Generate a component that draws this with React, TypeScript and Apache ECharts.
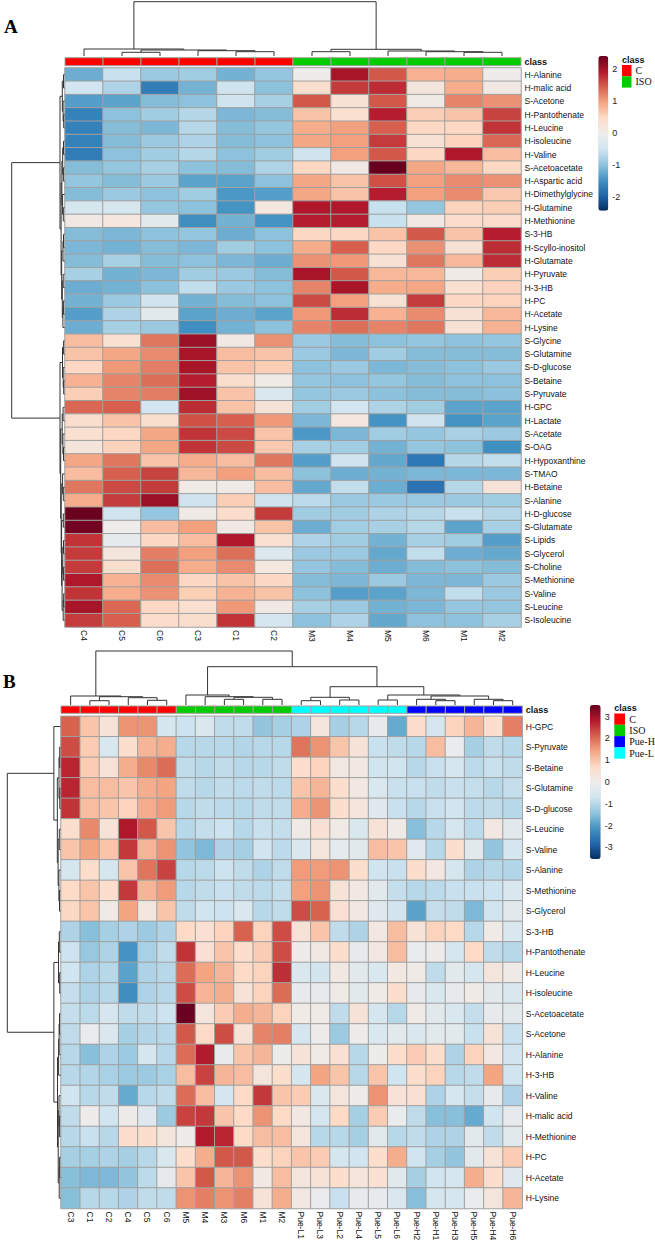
import React, { useEffect, useRef } from 'react';
import * as echarts from 'echarts';

// ---------------- Panel A data ----------------
const colsA = ['C4', 'C5', 'C6', 'C3', 'C1', 'C2', 'M3', 'M4', 'M5', 'M6', 'M1', 'M2'];
const classA = ['C', 'C', 'C', 'C', 'C', 'C', 'ISO', 'ISO', 'ISO', 'ISO', 'ISO', 'ISO'];
const rowsA = ['H-Alanine', 'H-malic acid', 'S-Acetone', 'H-Pantothenate', 'H-Leucine', 'H-isoleucine', 'H-Valine',
  'S-Acetoacetate', 'H-Aspartic acid', 'H-Dimethylglycine', 'H-Glutamine', 'H-Methionine', 'S-3-HB', 'H-Scyllo-inositol',
  'H-Glutamate', 'H-Pyruvate', 'H-3-HB', 'H-PC', 'H-Acetate', 'H-Lysine', 'S-Glycine', 'S-Glutamine', 'S-D-glucose',
  'S-Betaine', 'S-Pyruvate', 'H-GPC', 'H-Lactate', 'S-Acetate', 'S-OAG', 'H-Hypoxanthine', 'S-TMAO', 'H-Betaine',
  'S-Alanine', 'H-D-glucose', 'S-Glutamate', 'S-Lipids', 'S-Glycerol', 'S-Choline', 'S-Methionine', 'S-Valine',
  'S-Leucine', 'S-Isoleucine'];
const valuesA = [
  [-1.2, -0.55, -0.9, -0.85, -1.15, -0.95, 0.0, 2.0, 1.5, 0.85, 0.9, 0.0],
  [-0.45, -0.75, -1.7, -1.15, -0.5, -1.0, 0.4, 1.7, 1.8, 0.2, 0.9, 0.1],
  [-1.35, -1.3, -1.05, -1.0, -0.5, -0.8, 1.5, 0.3, 1.5, 0.05, 1.2, 1.1],
  [-1.65, -1.0, -0.85, -0.7, -1.1, -1.05, 0.7, 0.35, 1.9, 0.6, 0.7, 1.65],
  [-1.65, -1.05, -1.1, -0.7, -1.05, -0.95, 0.9, 1.0, 1.45, 0.5, 0.5, 1.75],
  [-1.65, -1.05, -0.9, -0.75, -1.05, -1.0, 0.95, 1.0, 1.7, 0.3, 0.55, 1.4],
  [-1.7, -1.0, -0.85, -0.7, -1.0, -0.85, -0.5, 1.0, 1.5, 0.5, 1.95, 0.75],
  [-1.05, -0.95, -0.8, -1.0, -1.05, -0.75, 0.5, 0.1, 2.42, 0.95, 0.8, 0.5],
  [-0.95, -1.05, -0.9, -1.3, -1.3, -1.0, 0.95, 0.7, 1.55, 1.0, 1.15, 1.1],
  [-1.05, -0.9, -1.0, -0.85, -1.4, -1.35, 0.95, 0.7, 1.9, 1.0, 1.15, 0.65],
  [-0.4, -0.4, -0.95, -1.0, -1.45, 0.15, 1.95, 1.95, -0.55, -0.95, 0.55, 0.6],
  [0.1, 0.15, -0.2, -1.5, -1.15, -1.45, 1.9, 1.9, -0.55, 0.1, 0.45, 0.45],
  [-1.05, -1.1, -1.0, -0.95, -1.2, -1.0, 0.5, 0.5, 0.7, 1.5, 0.7, 1.9],
  [-1.1, -1.15, -1.05, -1.1, -0.85, -1.0, 0.9, 1.45, 0.5, 1.1, 0.3, 1.8],
  [-1.05, -0.8, -1.05, -1.0, -1.1, -1.2, 1.1, 1.05, 0.3, 1.3, 0.8, 1.8],
  [-0.8, -1.15, -1.1, -0.85, -0.9, -1.05, 2.0, 1.5, 0.8, 0.8, 0.05, 0.6],
  [-1.2, -1.15, -1.0, -0.6, -0.9, -1.0, 1.2, 2.0, 0.9, 0.95, 0.35, 0.55],
  [-1.15, -0.9, -0.5, -1.15, -1.05, -1.0, 1.6, 1.0, 0.3, 1.7, 0.5, 0.55],
  [-1.35, -0.75, -0.2, -1.3, -1.2, -1.3, 1.05, 1.8, 0.85, 1.15, 0.3, 0.8],
  [-1.2, -0.8, -0.9, -1.5, -1.15, -1.0, 1.2, 1.35, 1.2, 1.3, 0.3, 0.85],
  [0.75, 0.35, 1.3, 2.1, 0.1, 1.1, -0.9, -1.05, -1.0, -0.95, -1.0, -0.95],
  [0.7, 0.95, 1.15, 2.0, 0.75, 0.7, -0.9, -1.1, -0.85, -1.05, -1.05, -1.05],
  [0.5, 1.05, 1.25, 2.0, 0.7, 0.6, -1.0, -0.9, -1.1, -1.05, -1.0, -0.9],
  [0.85, 1.2, 1.35, 1.9, 0.4, 0.05, -0.95, -1.0, -0.95, -1.05, -1.0, -1.0],
  [0.6, 1.2, 1.25, 2.05, 0.7, -0.35, -0.95, -0.9, -1.0, -1.05, -1.05, -1.0],
  [1.4, 1.45, -0.45, 1.8, 0.7, 0.25, -0.85, -0.45, -0.75, -0.85, -1.3, -1.3],
  [0.4, 0.7, 0.4, 1.55, 1.45, 1.05, -1.1, 0.15, -1.45, -0.5, -1.45, -1.3],
  [0.35, 0.5, 0.95, 1.75, 1.6, 0.7, -1.4, -1.1, -0.85, -0.95, -0.8, -0.9],
  [0.2, 0.55, 0.95, 1.75, 1.6, 0.65, -0.8, -0.85, -1.15, -0.95, -1.0, -1.5],
  [0.95, 1.3, 0.7, 0.9, 0.75, 1.3, -1.35, -0.5, -1.25, -1.75, -0.7, -0.6],
  [0.75, 1.45, 1.65, 0.8, 1.0, 0.75, -1.0, -1.2, -1.15, -1.1, -1.1, -1.1],
  [1.3, 1.6, 1.7, 0.05, 0.05, 0.75, -1.25, -0.6, -1.2, -1.8, -0.7, 0.25],
  [0.9, 1.7, 2.1, -0.5, 0.6, -0.5, -0.65, -0.9, -0.9, -0.9, -0.9, -0.85],
  [2.4, -0.5, -0.95, 0.05, 0.45, 1.7, -0.85, -0.85, -0.75, -0.7, -0.55, -0.7],
  [2.35, 0.0, 0.75, 1.0, 0.1, 0.7, -1.2, -0.85, -0.8, -0.7, -1.3, -0.8],
  [1.75, -0.15, 0.5, 0.75, 1.95, 0.35, -0.75, -0.85, -1.15, -0.8, -0.85, -1.35],
  [1.7, 0.2, 1.25, 1.0, 1.35, -0.3, -0.9, -0.9, -1.25, -0.6, -1.2, -1.25],
  [1.7, 0.4, 1.35, 0.9, 1.15, 0.15, -0.95, -1.05, -1.2, -1.05, -1.0, -1.05],
  [1.95, 0.85, 1.15, 0.5, 0.7, 0.5, -1.05, -1.1, -0.9, -1.1, -1.1, -0.9],
  [1.75, 0.9, 1.1, 0.6, 0.85, 0.7, -1.0, -1.35, -1.3, -1.1, -0.6, -0.9],
  [2.0, 1.4, 0.5, 0.35, 1.05, 0.1, -0.8, -0.9, -1.15, -1.1, -0.95, -0.95],
  [1.7, 1.45, 0.45, 0.4, 1.75, -0.4, -1.0, -0.75, -1.25, -1.0, -1.0, -0.8],
];
// hclust-style merges: negative = leaf (1-based display order), positive = earlier merge; [a, b, height]
const colMergeA = [
  [-2, -3, 3.7], [-5, -6, 4.3], [-4, 2, 5.3], [1, 3, 6.0], [-1, 4, 7.0],
  [-7, -8, 4.3], [-11, -12, 3.7], [-10, 7, 4.3], [-9, 8, 5.0], [6, 9, 6.7], [5, 10, 54.3],
];
const rowMergeA = [
  [-1, -2, 1.0], [-4, -5, 0.8], [-3, 2, 1.4], [1, 3, 2.2], [-6, -7, 1.0], [-8, -9, 1.1], [5, 6, 1.8],
  [-11, -12, 1.2], [-10, 8, 1.9], [7, 9, 2.6], [-13, -14, 1.0], [-15, 11, 1.5], [-16, -17, 1.3],
  [-18, -19, 1.1], [14, -20, 1.6], [13, 15, 2.2], [12, 16, 2.8], [10, 17, 3.4], [4, 18, 4.5],
  [-21, -22, 0.9], [-24, -25, 0.8], [-23, 21, 1.3], [20, 22, 2.0], [-26, -27, 1.4], [-29, -30, 1.0],
  [-28, 25, 1.6], [24, 26, 2.3], [-32, -33, 1.2], [-31, 28, 1.9], [-34, -35, 1.2], [-36, -37, 1.0],
  [-38, -39, 0.9], [31, 32, 1.7], [-40, -41, 0.8], [34, -42, 1.3], [33, 35, 2.4], [30, 36, 2.9],
  [29, 37, 3.3], [27, 38, 3.8], [23, 39, 4.5], [19, 40, 52.8],
];

// ---------------- Panel B data ----------------
const colsB = ['C3', 'C1', 'C2', 'C4', 'C5', 'C6', 'M5', 'M4', 'M3', 'M6', 'M1', 'M2', 'Pue-L1', 'Pue-L3', 'Pue-L2',
  'Pue-L4', 'Pue-L5', 'Pue-L6', 'Pue-H2', 'Pue-H1', 'Pue-H3', 'Pue-H5', 'Pue-H4', 'Pue-H6'];
const classB = ['C', 'C', 'C', 'C', 'C', 'C', 'ISO', 'ISO', 'ISO', 'ISO', 'ISO', 'ISO', 'Pue-L', 'Pue-L', 'Pue-L',
  'Pue-L', 'Pue-L', 'Pue-L', 'Pue-H', 'Pue-H', 'Pue-H', 'Pue-H', 'Pue-H', 'Pue-H'];
const rowsB = ['H-GPC', 'S-Pyruvate', 'S-Betaine', 'S-Glutamine', 'S-D-glucose', 'S-Leucine', 'S-Valine', 'S-Alanine',
  'S-Methionine', 'S-Glycerol', 'S-3-HB', 'H-Pantothenate', 'H-Leucine', 'H-isoleucine', 'S-Acetoacetate', 'S-Acetone',
  'H-Alanine', 'H-3-HB', 'H-Valine', 'H-malic acid', 'H-Methionine', 'H-PC', 'H-Acetate', 'H-Lysine'];
const valuesB = [
  [2.1, 1.0, 0.4, 1.6, 1.6, -0.6, -0.75, -0.5, -0.9, -0.9, -1.4, -1.2, -1.1, 0.3, -1.2, -1.0, -0.2, -1.8, 0.6, -0.6, 0.8, 1.2, 0.6, 1.8],
  [2.3, 0.9, -0.5, 0.6, 1.2, 1.3, -1.0, -1.0, -1.0, -1.05, -1.0, -1.0, 1.9, 1.6, 1.0, 0.4, -0.8, -0.9, -1.0, 1.1, -0.1, -1.2, -0.9, -1.0],
  [2.7, 0.9, 0.4, 1.3, 1.7, 2.0, -0.9, -1.0, -0.9, -1.0, -1.0, -0.9, 0.6, 0.8, 0.15, 0.2, -0.7, -0.7, -1.0, -0.8, -0.6, -0.95, -0.8, -0.9],
  [2.7, 1.1, 1.1, 1.0, 1.3, 1.4, -0.9, -1.0, -0.9, -0.95, -0.9, -0.95, 1.0, 1.2, 0.6, 0.2, -0.5, -0.8, -0.8, -0.9, -0.8, -0.85, -1.0, -0.85],
  [2.55, 1.1, 1.0, 0.8, 1.3, 1.5, -1.0, -0.9, -0.95, -1.0, -0.9, -0.9, 1.3, 1.6, 0.6, 0.35, -0.4, -0.8, -1.0, -0.8, -0.7, -0.95, -0.9, -1.0],
  [0.6, 1.7, 0.4, 2.85, 2.2, 1.0, -1.0, -0.85, -0.75, -1.0, -0.8, -0.85, 0.1, 0.45, 0.1, -0.5, 0.4, 0.1, -1.5, -1.0, -0.6, -0.95, 0.2, -0.3],
  [1.0, 1.4, 1.0, 2.5, 1.2, 1.6, -1.4, -1.6, -1.1, -1.2, -0.7, -0.95, -0.5, 0.3, -0.25, -0.3, 1.1, 1.0, -0.35, -1.0, 0.6, -0.3, -1.4, -0.6],
  [-0.6, 0.6, -0.6, 1.0, 1.9, 2.4, -1.0, -0.95, -0.75, -0.9, -1.1, -0.9, 1.5, 1.5, 1.6, 0.6, -0.7, -0.8, 0.6, 0.2, -0.6, -1.1, -1.0, -1.05],
  [0.7, 1.0, 0.6, 2.5, 1.2, 1.5, -1.0, -0.9, -0.8, -0.9, -0.95, -0.85, 1.45, 1.6, 0.4, 0.2, -0.3, -0.85, -1.0, -0.95, -0.8, -0.8, -0.75, -0.5],
  [0.75, 1.0, 0.1, 1.4, 0.25, 1.0, -0.9, -0.7, -0.75, -0.5, -1.0, -0.9, 2.3, 2.1, 0.5, 0.2, -0.4, -0.65, -1.9, -0.85, -0.9, -1.6, -0.7, -0.3],
  [-1.1, -1.5, -1.2, -1.1, -1.3, -1.1, 0.7, 0.5, 0.8, 2.1, 0.8, 2.3, 0.4, 1.0, -0.9, -1.1, 0.2, 1.1, 0.4, 0.8, 0.7, -1.0, 0.1, -0.5],
  [-0.75, -1.35, -1.1, -2.1, -1.15, -0.9, 2.55, 0.5, 1.0, 0.6, 0.9, 2.3, 0.05, 0.15, 0.6, -0.2, 0.2, 1.1, -0.1, 0.0, -0.6, 0.7, -0.9, -1.0],
  [-0.7, -1.1, -1.0, -1.9, -1.1, -1.0, 2.0, 1.4, 1.2, 0.7, 0.8, 2.6, -0.5, -0.65, 0.15, -0.3, -0.5, 0.2, 0.1, -0.9, -0.3, -0.6, 0.3, 0.1],
  [-0.85, -1.1, -1.0, -2.2, -1.1, -1.0, 2.3, 1.2, 1.3, 0.4, 0.8, 2.0, -0.2, -0.2, 0.1, -0.3, 0.1, 0.6, -0.2, -0.5, -0.2, 0.1, -0.3, -0.5],
  [-0.85, -0.95, -0.6, -0.9, -0.9, -0.75, 3.5, 0.3, 0.9, 1.3, 1.2, 0.8, 0.1, 0.1, -0.9, 0.4, -0.6, -1.0, 0.1, -0.3, -0.5, -0.85, -0.2, -0.3],
  [-0.9, -0.1, -0.5, -1.2, -1.05, -1.0, 2.2, 0.7, 2.3, 0.4, 1.75, 1.8, -0.6, 0.0, -1.3, 0.0, -0.5, -0.3, -0.5, -0.3, -0.3, -0.8, 0.4, -0.8],
  [-1.0, -1.5, -1.1, -1.3, -0.6, -1.0, 2.0, 2.8, -0.15, 1.0, 1.2, -0.05, 0.4, 0.1, 0.5, -1.0, -0.05, 0.6, 0.9, 0.6, -1.1, 0.8, 0.2, -0.7],
  [-1.0, -1.05, -1.15, -1.3, -1.3, -1.15, 1.1, 2.4, 1.2, 1.1, 0.3, 0.6, -0.6, 1.4, 1.0, -1.0, 1.0, -0.7, 0.6, 0.8, -1.0, -0.9, 1.4, -0.7],
  [-0.7, -1.0, -0.9, -1.8, -1.0, -0.9, 2.0, 1.1, -0.6, 0.7, 2.5, 1.0, 0.9, -0.5, 0.3, 0.0, 1.6, 0.4, 0.5, -1.1, -0.6, -0.85, -0.2, -1.1],
  [-0.9, 0.0, -0.7, 0.05, -0.4, -1.3, 2.4, 2.5, 1.0, 0.7, 1.6, 0.7, 0.2, -0.6, 0.7, -1.2, 0.9, -0.1, -0.9, -1.5, -1.5, -1.8, -0.7, -0.2],
  [-1.0, -0.8, -1.0, 0.6, 0.6, 0.3, 0.05, 2.8, 2.7, 0.7, 1.1, 1.1, 0.3, -1.0, -1.0, -1.2, -0.3, -1.0, -0.9, -1.1, -1.1, -0.3, -0.9, -0.3],
  [-1.2, -1.2, -1.1, -1.2, -1.0, -0.5, 0.6, 1.3, 2.2, 2.2, 0.6, 0.8, 1.0, 0.9, -0.6, -0.7, 0.6, 1.3, -0.7, -1.2, -1.4, -0.3, 0.4, 0.9],
  [-1.5, -1.6, -1.6, -1.4, -0.95, -0.2, 1.0, 2.2, 1.2, 1.6, 0.15, 1.1, 0.3, 0.4, 0.6, 0.35, 0.5, -0.3, -1.2, -0.7, -0.6, 1.3, 0.6, -0.4],
  [-1.5, -1.0, -1.0, -1.1, -0.9, -0.9, 1.6, 1.8, 1.6, 1.8, 0.4, 1.3, 0.2, -0.1, -0.8, -0.2, -0.2, -0.5, -1.5, -0.6, -0.6, -0.1, 0.3, 1.2],
];
const colMergeB = [
  [-2, -3, 4.3], [-5, -6, 4.7], [-4, 2, 7.3], [1, 3, 8.3], [-1, 4, 9.0],
  [-9, -10, 5.7], [-11, -12, 5.7], [6, 7, 7.7], [-8, 8, 8.3], [-7, 9, 10.0],
  [-13, -14, 4.3], [-15, -16, 5.0], [11, 12, 7.7], [-17, -18, 5.0], [-20, -21, 4.3], [-19, 15, 5.7],
  [-23, -24, 4.3], [-22, 17, 5.7], [16, 18, 9.0], [14, 19, 10.0], [13, 20, 18.3], [10, 21, 38.3], [5, 22, 54.0],
];
const rowMergeB = [
  [-2, -3, 0.8], [-4, -5, 0.7], [1, 2, 1.5], [-6, -7, 1.2], [-9, -10, 1.0], [-8, 5, 1.6], [4, 6, 2.4],
  [3, 7, 3.2], [-1, 8, 6.7], [-11, -12, 1.2], [-13, -14, 0.8], [10, 11, 2.0], [-15, -16, 1.0], [13, -17, 1.4],
  [14, -18, 1.9], [-20, -21, 0.9], [-19, 16, 1.5], [-22, -23, 0.9], [18, -24, 1.3], [17, 19, 2.3], [15, 20, 3.0],
  [12, 21, 6.7], [9, 22, 53.7],
];

const classNames = ['C', 'ISO', 'Pue-H', 'Pue-L'];
const classColors = ['#FF0000', '#00CD00', '#0000FF', '#00FFFF'];
const palette = ['#053061', '#2166AC', '#4393C3', '#92C5DE', '#D1E5F0', '#EEECEB', '#FDDBC7', '#F4A582', '#D6604D', '#B2182B', '#67001F'];
const rangeA = [-2.42, 2.42];
const rangeB = [-3.53, 3.53];

const SANS = '"Liberation Sans", Arial, Helvetica, sans-serif';
const SERIF = '"Liberation Serif", "Times New Roman", serif';
const LABEL_SIZE = 8.5;

function buildDendro(merges: number[][]) {
  const pos: number[] = [];
  const hts: number[] = [];
  const segs: number[][] = [];
  merges.forEach(([a, b, h]) => {
    const pa = a < 0 ? -a - 1 : pos[a - 1];
    const ha = a < 0 ? 0 : hts[a - 1];
    const pb = b < 0 ? -b - 1 : pos[b - 1];
    const hb = b < 0 ? 0 : hts[b - 1];
    pos.push((pa + pb) / 2);
    hts.push(h);
    segs.push([pa, ha, pb, hb, h]);
  });
  return segs;
}

function dendroRender(horizontal: boolean) {
  return (params: any, api: any) => {
    const pa = api.value(0), ha = api.value(1), pb = api.value(2), hb = api.value(3), h = api.value(4);
    const pts = horizontal
      ? [[pa, ha], [pa, h], [pb, h], [pb, hb]]
      : [[ha, pa], [h, pa], [h, pb], [hb, pb]];
    return {
      type: 'polyline',
      shape: { points: pts.map((p) => api.coord(p)) },
      style: { stroke: '#333333', lineWidth: 1, fill: 'none' },
    };
  };
}

const classRender = (params: any, api: any) => {
  const p = api.coord([api.value(0), api.value(1)]);
  const s = api.size([1, 1]);
  return {
    type: 'rect',
    shape: { x: p[0] - s[0] / 2, y: p[1] - s[1] / 2, width: s[0], height: s[1] },
    style: { fill: classColors[api.value(2)], stroke: '#A0A0A0', lineWidth: 1 },
  };
};

function heatData(vals: number[][]) {
  const out: number[][] = [];
  vals.forEach((row, r) => row.forEach((v, c) => out.push([c, r, v])));
  return out;
}

export default function App() {
  const ref = useRef<HTMLDivElement>(null);
  useEffect(() => {
    if (!ref.current) return;
    const chart = echarts.init(ref.current, undefined, { renderer: 'svg' });

    const L = {
      A: { heat: { left: 65, top: 68, width: 456, height: 559 }, cls: { top: 57.7, height: 8 }, dendTop: 1.7, dendBase: 56, rowDendLeft: 11.7, bar: { left: 598.3, top: 56, width: 10, height: 154.7 } },
      B: { heat: { left: 61, top: 716.3, width: 461.3, height: 492.2 }, cls: { top: 706, height: 7.3 }, dendTop: 651, dendBase: 705, rowDendLeft: 7.3, bar: { left: 590, top: 705, width: 10.7, height: 154 } },
    };

    const grids: any[] = [];
    const xAxes: any[] = [];
    const yAxes: any[] = [];
    const series: any[] = [];
    const visualMaps: any[] = [];
    const graphics: any[] = [];

    const panels = [
      { key: 'A', cols: colsA, cls: classA, rows: rowsA, vals: valuesA, colM: colMergeA, rowM: rowMergeA, range: rangeA },
      { key: 'B', cols: colsB, cls: classB, rows: rowsB, vals: valuesB, colM: colMergeB, rowM: rowMergeB, range: rangeB },
    ];

    panels.forEach((P) => {
      const lay = (L as any)[P.key];
      const h = lay.heat;
      const nC = P.cols.length;
      const nR = P.rows.length;
      const colSegs = buildDendro(P.colM);
      const rowSegs = buildDendro(P.rowM);
      const colRoot = colSegs[colSegs.length - 1][4];
      const rowRoot = rowSegs[rowSegs.length - 1][4];

      // heatmap grid
      const gHeat = grids.length;
      grids.push({ left: h.left, top: h.top, width: h.width, height: h.height, outerBoundsMode: 'none', containLabel: false });
      xAxes.push({
        type: 'category', gridIndex: gHeat, data: P.cols, position: 'bottom',
        axisLine: { show: false }, axisTick: { show: false }, splitLine: { show: false },
        axisLabel: { rotate: -90, interval: 0, margin: 3, fontSize: LABEL_SIZE, fontFamily: SANS, color: '#111' },
      });
      yAxes.push({
        type: 'category', gridIndex: gHeat, data: P.rows, inverse: true, position: 'right',
        axisLine: { show: false }, axisTick: { show: false }, splitLine: { show: false },
        axisLabel: { interval: 0, margin: 3.5, fontSize: LABEL_SIZE, fontFamily: SANS, color: '#111' },
      });
      const heatSeriesIndex = series.length;
      series.push({
        type: 'heatmap', xAxisIndex: gHeat, yAxisIndex: gHeat, data: heatData(P.vals),
        itemStyle: { borderColor: '#A0A0A0', borderWidth: 1 }, emphasis: { disabled: true },
      });
      visualMaps.push({
        type: 'continuous', seriesIndex: heatSeriesIndex, min: P.range[0], max: P.range[1],
        inRange: { color: palette }, calculable: false, orient: 'vertical', padding: 0,
        left: lay.bar.left, top: lay.bar.top, itemWidth: lay.bar.width, itemHeight: lay.bar.height,
        hoverLink: false,
      });

      // class bar grid
      const gCls = grids.length;
      grids.push({ left: h.left, top: lay.cls.top, width: h.width, height: lay.cls.height, outerBoundsMode: 'none', containLabel: false });
      xAxes.push({ type: 'category', gridIndex: gCls, data: P.cols, show: false });
      yAxes.push({
        type: 'category', gridIndex: gCls, data: ['class'], position: 'right',
        axisLine: { show: false }, axisTick: { show: false },
        axisLabel: { margin: 3.5, fontSize: LABEL_SIZE + 0.5, fontWeight: 'bold', fontFamily: SANS, color: '#111' },
      });
      series.push({
        type: 'custom', xAxisIndex: gCls, yAxisIndex: gCls, renderItem: classRender,
        data: P.cls.map((c, i) => [i, 0, classNames.indexOf(c)]),
      });

      // column dendrogram
      const gCD = grids.length;
      grids.push({ left: h.left, top: lay.dendTop, width: h.width, height: lay.dendBase - lay.dendTop, outerBoundsMode: 'none', containLabel: false });
      xAxes.push({ type: 'value', gridIndex: gCD, min: -0.5, max: nC - 0.5, show: false });
      yAxes.push({ type: 'value', gridIndex: gCD, min: 0, max: colRoot, show: false });
      series.push({ type: 'custom', xAxisIndex: gCD, yAxisIndex: gCD, renderItem: dendroRender(true), data: colSegs, clip: false });

      // row dendrogram
      const gRD = grids.length;
      grids.push({ left: lay.rowDendLeft, top: h.top, width: h.left - 0.5 - lay.rowDendLeft, height: h.height, outerBoundsMode: 'none', containLabel: false });
      xAxes.push({ type: 'value', gridIndex: gRD, min: 0, max: rowRoot, inverse: true, show: false });
      yAxes.push({ type: 'value', gridIndex: gRD, min: -0.5, max: nR - 0.5, inverse: true, show: false });
      series.push({ type: 'custom', xAxisIndex: gRD, yAxisIndex: gRD, renderItem: dendroRender(false), data: rowSegs, clip: false });

      // colour-bar tick axis
      const gBar = grids.length;
      grids.push({ left: lay.bar.left, top: lay.bar.top, width: lay.bar.width, height: lay.bar.height, outerBoundsMode: 'none', containLabel: false });
      xAxes.push({ type: 'value', gridIndex: gBar, min: 0, max: 1, show: false });
      yAxes.push({
        type: 'value', gridIndex: gBar, min: P.range[0], max: P.range[1], position: 'right',
        splitNumber: Math.round(P.range[1] * 2),
        axisLine: { show: false }, axisTick: { show: false }, splitLine: { show: false },
        axisLabel: { margin: 4, fontSize: 9, fontFamily: SANS, color: '#222', showMinLabel: false, showMaxLabel: false },
      });
    });

    // class legends
    const legendA = { x: 622, titleY: 59.5, boxY: 65, boxW: 9.5, boxH: 11.3, textX: 635.5, names: ['C', 'ISO'] };
    const legendB = { x: 614.3, titleY: 708, boxY: 713.5, boxW: 10.7, boxH: 11.3, textX: 629.3, names: ['C', 'ISO', 'Pue-H', 'Pue-L'] };
    [legendA, legendB].forEach((lg) => {
      graphics.push({
        type: 'text', x: lg.x, y: lg.titleY,
        style: { text: 'class', font: 'bold 9px ' + SANS, fill: '#111', align: 'left', verticalAlign: 'middle' },
      });
      lg.names.forEach((n, i) => {
        const y = lg.boxY + i * lg.boxH;
        graphics.push({
          type: 'rect', shape: { x: lg.x, y, width: lg.boxW, height: lg.boxH },
          style: { fill: classColors[classNames.indexOf(n)] },
        });
        graphics.push({
          type: 'text', x: lg.textX, y: y + lg.boxH / 2,
          style: { text: n, font: '10px ' + SERIF, fill: '#111', align: 'left', verticalAlign: 'middle' },
        });
      });
    });
    graphics.push({ type: 'text', x: 4, y: 26, style: { text: 'A', font: 'bold 19px ' + SERIF, fill: '#000', align: 'left', verticalAlign: 'middle' } });
    graphics.push({ type: 'text', x: 3, y: 681, style: { text: 'B', font: 'bold 19px ' + SERIF, fill: '#000', align: 'left', verticalAlign: 'middle' } });

    chart.setOption({
      animation: false,
      backgroundColor: '#ffffff',
      grid: grids,
      xAxis: xAxes,
      yAxis: yAxes,
      visualMap: visualMaps,
      series,
      graphic: graphics,
    });
    return () => chart.dispose();
  }, []);
  return <div ref={ref} style={{ position: 'absolute', left: 0, top: 0, width: 655, height: 1242 }} />;
}
